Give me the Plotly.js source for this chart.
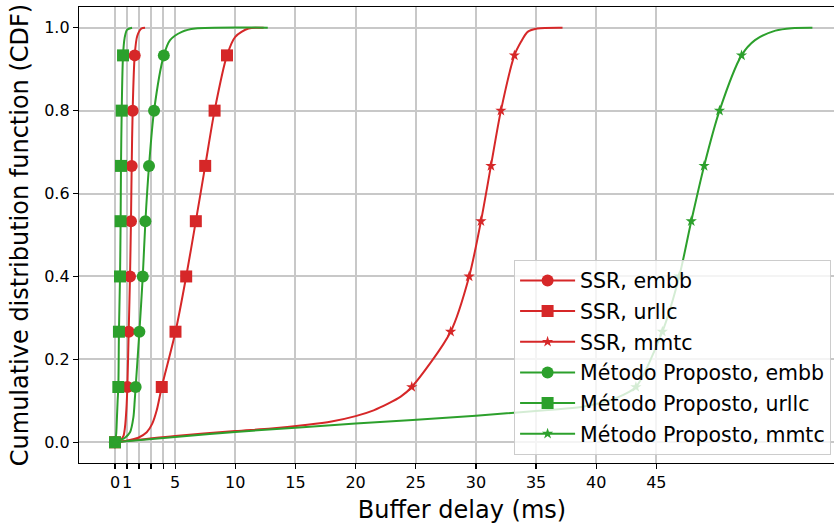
<!DOCTYPE html>
<html><head><meta charset="utf-8">
<script src="https://cdn.plot.ly/plotly-3.0.1.min.js"></script>
<style>html,body{margin:0;padding:0;overflow:hidden;background:#fff}</style>
</head><body><div id="chart" style="width:846px;height:527px"></div>
<script>
const seriesNames = ['SSR, embb', 'SSR, urllc', 'SSR, mmtc', 'Método Proposto, embb', 'Método Proposto, urllc', 'Método Proposto, mmtc'];
const markerCdf = [0, 0.1333, 0.2667, 0.4, 0.5333, 0.6667, 0.8, 0.9333];

const ssrEmbbDelay = [0, 0.4, 0.7, 0.83, 0.95, 1.03, 1.14, 1.25, 1.33, 1.39, 1.47, 1.64, 1.85, 2.2, 2.5];
const ssrEmbbCdf   = [0, 0.004, 0.015, 0.036, 0.08, 0.1333, 0.2667, 0.4, 0.5333, 0.6667, 0.8, 0.9333, 0.98, 0.998, 1.0];

const ssrUrllcDelay = [0, 1.0, 1.94, 2.64, 3.1, 3.47, 3.89, 5.03, 5.92, 6.72, 7.5, 8.28, 9.31, 10.0, 11.1, 12.36];
const ssrUrllcCdf   = [0, 0.004, 0.011, 0.024, 0.045, 0.077, 0.1333, 0.2667, 0.4, 0.5333, 0.6667, 0.8, 0.9333, 0.978, 0.998, 1.0];

const ssrMmtcDelay = [0, 5, 10, 13, 16, 18, 20, 21.5, 22.7, 23.75, 24.67, 27.9, 29.44, 30.42, 31.25, 32.08, 33.2, 33.75, 34.3, 35.1, 37.2];
const ssrMmtcCdf   = [0, 0.015, 0.027, 0.033, 0.042, 0.05, 0.063, 0.077, 0.093, 0.11, 0.1333, 0.2667, 0.4, 0.5333, 0.6667, 0.8, 0.9333, 0.966, 0.99, 0.998, 1.0];

const propEmbbDelay = [0, 0.83, 1.25, 1.53, 1.64, 1.72, 2.03, 2.31, 2.53, 2.83, 3.25, 4.06, 4.58, 5.56, 6.67, 12.7];
const propEmbbCdf   = [0, 0.011, 0.024, 0.06, 0.1, 0.1333, 0.2667, 0.4, 0.5333, 0.6667, 0.8, 0.9333, 0.97, 0.99, 0.998, 1.0];

const propUrllcDelay = [0, 0.1, 0.15, 0.22, 0.28, 0.33, 0.42, 0.47, 0.5, 0.56, 0.67, 0.8, 1.0, 1.42];
const propUrllcCdf   = [0, 0.02, 0.05, 0.1, 0.1333, 0.2667, 0.4, 0.5333, 0.6667, 0.8, 0.9333, 0.975, 0.995, 1.0];

const propMmtcDelay = [0, 5, 10, 20, 30, 36, 38.75, 41, 42.3, 43.3, 45.5, 46.9, 47.9, 48.97, 50.25, 52.08, 53.2, 54.9, 56.25, 57.97];
const propMmtcCdf   = [0, 0.013, 0.025, 0.045, 0.064, 0.078, 0.085, 0.1, 0.115, 0.1333, 0.2667, 0.4, 0.5333, 0.6667, 0.8, 0.9333, 0.97, 0.993, 0.999, 1.0];

const xTickVals = [0, 1, 2, 3, 4, 5, 10, 15, 20, 25, 30, 35, 40, 45];
const xTickText = ['0', '1', '', '', '', '5', '10', '15', '20', '25', '30', '35', '40', '45'];
const yTickVals = [0, 0.2, 0.4, 0.6, 0.8, 1.0];
const yTickText = ['0.0', '0.2', '0.4', '0.6', '0.8', '1.0'];

const RED = '#d62728', GREEN = '#2ca02c';
const seriesX = [ssrEmbbDelay, ssrUrllcDelay, ssrMmtcDelay, propEmbbDelay, propUrllcDelay, propMmtcDelay];
const seriesY = [ssrEmbbCdf, ssrUrllcCdf, ssrMmtcCdf, propEmbbCdf, propUrllcCdf, propMmtcCdf];
const colors = [RED, RED, RED, GREEN, GREEN, GREEN];
const symbols = ['circle', 'square', 'star', 'circle', 'square', 'star'];
const sizes = [12, 12, 8.5, 12, 12, 8.5];

const traces = seriesNames.map((name, i) => {
  const sel = [];
  seriesY[i].forEach((v, j) => { if (markerCdf.some(m => Math.abs(m - v) < 1e-6)) sel.push(j); });
  return {
    type: 'scatter', mode: 'lines+markers', name: name,
    x: seriesX[i], y: seriesY[i],
    legendgroup: 'g' + i,
    line: {color: colors[i], width: 2, shape: 'spline', smoothing: 0.8},
    marker: {color: colors[i], symbol: symbols[i], size: sizes[i], line: {width: 0}},
    selectedpoints: sel,
    selected: {marker: {opacity: 1}},
    unselected: {marker: {opacity: 0}},
    hoverinfo: 'skip'
  };
});

const axisCommon = {
  showline: true, linecolor: '#000', linewidth: 1.2, mirror: true,
  ticks: 'outside', ticklen: 5, tickwidth: 1.2, tickcolor: '#000',
  showgrid: true, gridcolor: '#c8c8c8', gridwidth: 2, zeroline: false,
  tickangle: 0,
  tickfont: {family: 'DejaVu Sans', size: 16, color: '#000'}
};

const layout = {
  width: 846, height: 527,
  margin: {l: 79, r: 1, t: 7, b: 64},
  paper_bgcolor: '#fff', plot_bgcolor: '#fff',
  font: {family: 'DejaVu Sans', color: '#000'},
  showlegend: true,
  xaxis: Object.assign({}, axisCommon, {
    range: [-2.99, 60.68], tickmode: 'array', tickvals: xTickVals, ticktext: xTickText,
    title: {text: 'Buffer delay (ms)', font: {family: 'DejaVu Sans', size: 24, color: '#000'}, standoff: 9}
  }),
  yaxis: Object.assign({}, axisCommon, {
    range: [-0.05, 1.05], tickmode: 'array', tickvals: yTickVals, ticktext: yTickText,
    title: {text: 'Cumulative distribution function (CDF)', font: {family: 'DejaVu Sans', size: 24, color: '#000'}, standoff: 8}
  }),
  legend: {
    x: 0.568, y: 0.446, xanchor: 'left', yanchor: 'top',
    bgcolor: 'rgba(255,255,255,0.8)', bordercolor: '#cccccc', borderwidth: 1,
    font: {family: 'DejaVu Sans', size: 20.5, color: '#000'},
    traceorder: 'grouped', tracegroupgap: 1, itemwidth: 55
  }
};

Plotly.newPlot('chart', traces, layout, {displayModeBar: false, staticPlot: true});
</script></body></html>
